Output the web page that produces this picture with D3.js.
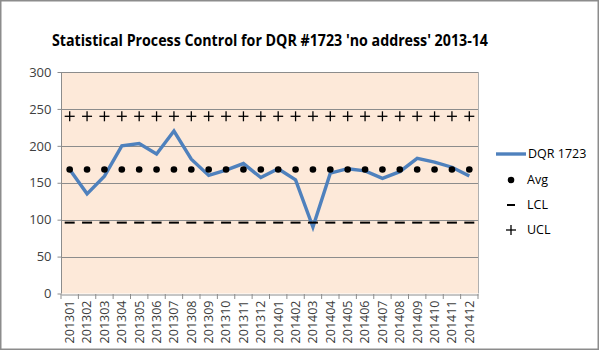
<!DOCTYPE html>
<html><head><meta charset="utf-8">
<script src="https://cdn.jsdelivr.net/npm/d3@7"></script>
<style>body{margin:0;background:#fff}svg{display:block}</style>
</head><body>
<svg id="c" width="600" height="351"></svg>
<script>
const categories = ["201301","201302","201303","201304","201305","201306","201307","201308","201309","201310","201311","201312","201401","201402","201403","201404","201405","201406","201407","201408","201409","201410","201411","201412"];
const dqr = [168,135,159,200,203,189,220,182,160,167,176,157,169,154,90,163,169,166,156,165,183,178,171,159];
const avgValue = 168;
const lclValue = 96;
const uclValue = 240;
const yTicks = [0,50,100,150,200,250,300];
const legendLabels = ["DQR 1723","Avg","LCL","UCL"];

const svg = d3.select("#c");
const font = "'Open Sans', 'Liberation Sans', sans-serif";
svg.append("rect").attr("x",0.75).attr("y",0.75).attr("width",597.5).attr("height",348.5)
  .attr("fill","#fff").attr("stroke","#8c8c8c").attr("stroke-width",1.5);

const L=61, R=478, T=72, B=293.5;
const x = d3.scaleBand().domain(categories).range([L,R]);
const y = d3.scaleLinear().domain([0,300]).range([B,T]);
const cx = d => x(d)+x.bandwidth()/2;

svg.append("rect").attr("x",L).attr("y",T).attr("width",R-L).attr("height",B-T).attr("fill","#fde9d9");

svg.append("g").selectAll("line").data(yTicks.filter(t=>t>0)).join("line")
  .attr("x1",L).attr("x2",R).attr("y1",d=>Math.round(y(d))+0.5).attr("y2",d=>Math.round(y(d))+0.5)
  .attr("stroke","#8c8c8c").attr("stroke-width",1);
svg.append("line").attr("x1",R+0.5).attr("x2",R+0.5).attr("y1",T).attr("y2",B).attr("stroke","#b0b0b0");

const ya = svg.append("g").attr("transform",`translate(${L+0.5},0)`)
  .call(d3.axisLeft(y).tickValues(yTicks).tickSize(4).tickPadding(6));
ya.select(".domain").attr("stroke","#8c8c8c").attr("d",`M0,${T}V${B}`);
ya.selectAll(".tick line").attr("stroke","#8c8c8c");
ya.selectAll("text").attr("font-family",font).attr("font-size",13).attr("fill","#404040");

const xa = svg.append("g").attr("transform",`translate(0,${Math.round(B)+0.5})`)
  .call(d3.axisBottom(x).tickSize(0).tickPadding(4));
xa.select(".domain").attr("stroke","#8c8c8c");
xa.selectAll(".tick line").remove();
svg.append("g").selectAll("line").data(d3.range(categories.length+1)).join("line")
  .attr("x1",i=>L+i*x.step()).attr("x2",i=>L+i*x.step())
  .attr("y1",Math.round(B)).attr("y2",Math.round(B)+5).attr("stroke","#8c8c8c");
xa.selectAll("text").attr("font-family",font).attr("font-size",12.5).attr("fill","#404040")
  .attr("transform","rotate(-90)").attr("text-anchor","end").attr("dy","0.35em")
  .attr("x",-6).attr("y",0);

svg.append("path").datum(dqr)
  .attr("d",d3.line().x((d,i)=>cx(categories[i])).y(d=>y(d)))
  .attr("fill","none").attr("stroke","#4f81bd").attr("stroke-width",3.4).attr("stroke-linejoin","miter");

svg.append("g").selectAll("circle").data(categories).join("circle")
  .attr("cx",cx).attr("cy",y(avgValue)).attr("r",3.3).attr("fill","#000");
svg.append("g").selectAll("line").data(categories).join("line")
  .attr("x1",d=>cx(d)-5).attr("x2",d=>cx(d)+5).attr("y1",y(lclValue)).attr("y2",y(lclValue))
  .attr("stroke","#000").attr("stroke-width",2);
const ug = svg.append("g").selectAll("g").data(categories).join("g")
  .attr("transform",d=>`translate(${cx(d)},${y(uclValue)})`);
ug.append("line").attr("x1",-5).attr("x2",5).attr("stroke","#000").attr("stroke-width",1.3);
ug.append("line").attr("y1",-5).attr("y2",5).attr("stroke","#000").attr("stroke-width",1.3);

svg.append("text").attr("x",52).attr("y",46).attr("font-family",font).attr("font-weight","bold")
  .attr("font-size",16).attr("fill","#000").attr("textLength",436).attr("lengthAdjust","spacingAndGlyphs")
  .text("Statistical Process Control for DQR #1723 'no address' 2013-14");

const lg = svg.append("g").attr("font-family",font).attr("font-size",12.5).attr("fill","#000");
const ly = [154,180,205,230];
lg.append("line").attr("x1",496).attr("x2",526).attr("y1",ly[0]).attr("y2",ly[0]).attr("stroke","#4f81bd").attr("stroke-width",3.4);
lg.append("circle").attr("cx",511).attr("cy",ly[1]).attr("r",3.3).attr("fill","#000");
lg.append("line").attr("x1",507).attr("x2",515).attr("y1",ly[2]).attr("y2",ly[2]).attr("stroke","#000").attr("stroke-width",2);
lg.append("line").attr("x1",506).attr("x2",516).attr("y1",ly[3]).attr("y2",ly[3]).attr("stroke","#000").attr("stroke-width",1.3);
lg.append("line").attr("x1",511).attr("x2",511).attr("y1",ly[3]-5).attr("y2",ly[3]+5).attr("stroke","#000").attr("stroke-width",1.3);
lg.selectAll("text").data(legendLabels).join("text")
  .attr("x",(d,i)=>i===0?528:527).attr("y",(d,i)=>ly[i]).attr("dy","0.35em").attr("fill","#000").text(d=>d);
</script>
</body></html>
